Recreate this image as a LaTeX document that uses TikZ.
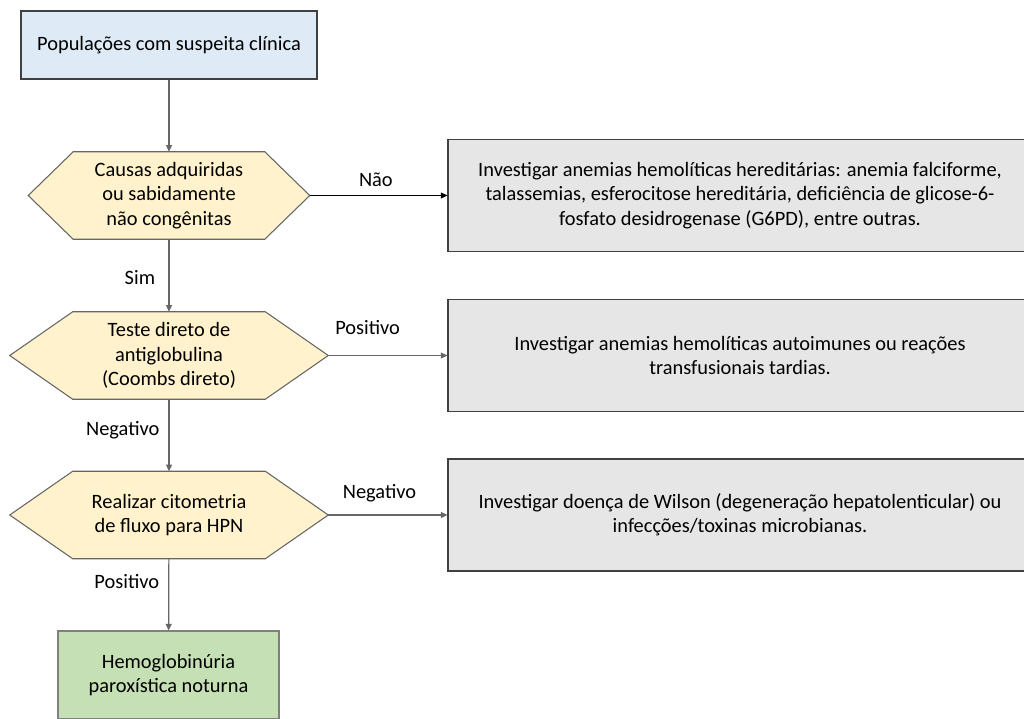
\documentclass[tikz,border=0pt]{standalone}
\usepackage{fontspec}
\setmainfont{Carlito}
\usetikzlibrary{arrows.meta,backgrounds}

\definecolor{boxblue}{HTML}{DEEBF7}
\definecolor{hexfill}{HTML}{FFF2CC}
\definecolor{boxgray}{HTML}{E7E6E6}
\definecolor{boxgreen}{HTML}{C5E0B4}
\definecolor{edgegray}{HTML}{404040}

\tikzset{
  box/.style={draw=edgegray, line width=0.8pt, align=center, inner sep=0pt},
  investig/.style={box, fill=boxgray, minimum width=438pt, minimum height=84pt},
  decision/.style={align=center, inner sep=0pt, minimum height=65.25pt},
  flow/.style={draw=black!60, line width=0.9pt, -{Triangle[length=5pt,width=4.5pt]}},
  lbl/.style={inner sep=0pt}
}

% hexagon behind a decision node: name, depth of the tips
\newcommand{\hexframe}[2]{%
  \begin{scope}[on background layer]
    \filldraw[fill=hexfill, draw=black!60, line width=0.8pt]
      (#1.west) -- ([xshift=#2]#1.north west) -- ([xshift=-#2]#1.north east)
      -- (#1.east) -- ([xshift=-#2]#1.south east) -- ([xshift=#2]#1.south west) -- cycle;
  \end{scope}}

\begin{document}
\begin{tikzpicture}[x=0.75pt, y=-0.75pt, font=\fontsize{15.3}{18.3}\selectfont]
  \useasboundingbox (0,0) rectangle (1024,718);

  \node[box, fill=boxblue, minimum width=222pt, minimum height=51pt] (pop) at (169,45)
    {Populações com suspeita clínica};

  \node[decision, minimum width=210.75pt] (causas) at (169,195.5)
    {Causas adquiridas\\ou sabidamente\\não congênitas};
  \hexframe{causas}{33.75pt}
  \node[decision, minimum width=238.5pt] (coombs) at (169,355.5)
    {Teste direto de\\antiglobulina\\(Coombs direto)};
  \hexframe{coombs}{47.25pt}
  \node[decision, minimum width=238.5pt] (citom) at (169,515)
    {Realizar citometria\\de fluxo para HPN};
  \hexframe{citom}{47.25pt}

  \node[box, fill=boxgreen, draw=black!50, minimum width=165.75pt, minimum height=66pt] (hpn) at (168.5,675)
    {Hemoglobinúria\\paroxística noturna};

  \node[investig] (hered) at (740,195.5)
    {Investigar anemias hemolíticas hereditárias: anemia falciforme,\\
     talassemias, esferocitose hereditária, deficiência de glicose-6-\\
     fosfato desidrogenase (G6PD), entre outras.};
  \node[investig] (autoim) at (740,355.5)
    {Investigar anemias hemolíticas autoimunes ou reações\\transfusionais tardias.};
  \node[investig] (wilson) at (740,515)
    {Investigar doença de Wilson (degeneração hepatolenticular) ou\\infecções/toxinas microbianas.};

  \draw[flow] (pop) -- (causas);
  \draw[flow] (causas) -- node[lbl, pos=.53, left=10pt] {Sim} (coombs);
  \draw[flow] (coombs) -- node[lbl, pos=.43, left=6.75pt] {Negativo} (citom);
  \draw[flow] (citom) -- node[lbl, pos=.32, left=6.75pt] {Positivo} (hpn);

  \draw[flow, draw=black] (causas.east) -- node[lbl, pos=.48, yshift=12pt] {Não} (hered.west);
  \draw[flow] (coombs.east) -- node[lbl, pos=.33, yshift=21pt] {Positivo} (autoim.west);
  \draw[flow] (citom.east) -- node[lbl, pos=.43, yshift=16.5pt] {Negativo} (wilson.west);
\end{tikzpicture}
\end{document}
